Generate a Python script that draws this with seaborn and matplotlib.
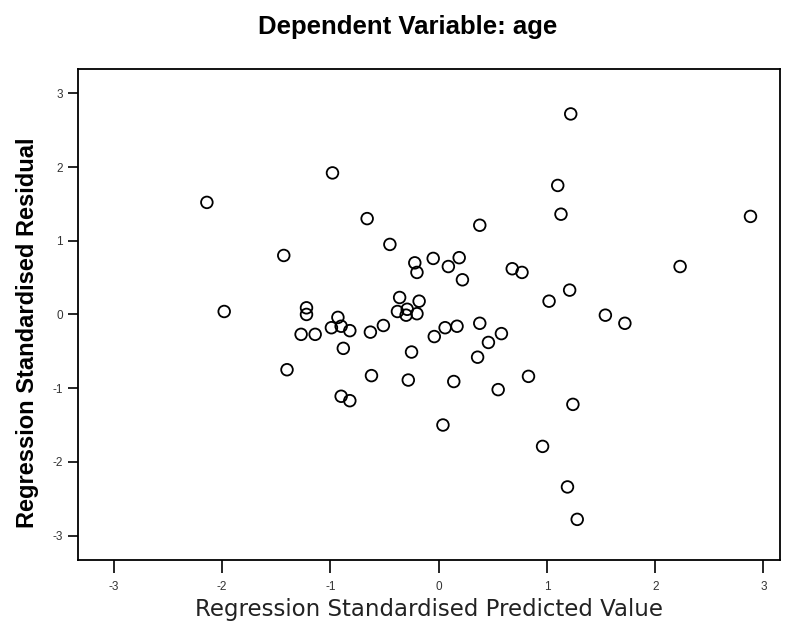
import matplotlib
matplotlib.use("Agg")
import matplotlib.pyplot as plt
import seaborn as sns
import pandas as pd

predicted = [-2.14, -1.98, -1.43, -1.40, -0.98, -0.66, -0.45, -0.22, -0.20, -0.05,
             0.09, 0.19, 0.22, 0.38, 1.22, 1.10, 1.13, 2.88, 2.23, 0.68,
             0.77, 1.02, 1.21, 1.54, 1.72, -1.22, -1.22, -0.93, -0.99, -0.90,
             -0.82, -1.27, -1.14, -0.88, -0.63, -0.51, -0.36, -0.18, -0.38, -0.29,
             -0.30, -0.20, -0.25, -0.62, -0.28, 0.14, -0.90, -0.82, 0.04, -0.04,
             0.06, 0.17, 0.38, 0.58, 0.46, 0.36, 0.55, 0.83, 1.24, 0.96,
             1.19, 1.28]
residual = [1.52, 0.04, 0.80, -0.75, 1.92, 1.30, 0.95, 0.70, 0.57, 0.76,
            0.65, 0.77, 0.47, 1.21, 2.72, 1.75, 1.36, 1.33, 0.65, 0.62,
            0.57, 0.18, 0.33, -0.01, -0.12, 0.09, 0.00, -0.04, -0.18, -0.16,
            -0.22, -0.27, -0.27, -0.46, -0.24, -0.15, 0.23, 0.18, 0.04, 0.07,
            -0.01, 0.01, -0.51, -0.83, -0.89, -0.91, -1.11, -1.17, -1.50, -0.30,
            -0.18, -0.16, -0.12, -0.26, -0.38, -0.58, -1.02, -0.84, -1.22, -1.79,
            -2.34, -2.78]
ticks = [-3, -2, -1, 0, 1, 2, 3]

title = "Dependent Variable: age"
xlabel = "Regression Standardised Predicted Value"
ylabel = "Regression Standardised Residual"

df = pd.DataFrame({"pred": predicted, "resid": residual})

sns.set_style("white")
plt.rcParams["font.family"] = ["Liberation Sans", "DejaVu Sans"]
plt.rcParams["text.color"] = "black"

fig = plt.figure(figsize=(7.92, 6.27), dpi=100)
ax = fig.add_axes([0.0985, 0.107, 0.886, 0.783])

sns.scatterplot(data=df, x="pred", y="resid", ax=ax, marker="o",
                facecolors="none", edgecolor="black", linewidth=1.3, s=70)

ax.set_xlim(-3.33, 3.15)
ax.set_ylim(-3.33, 3.33)
ax.set_xticks(ticks)
ax.set_yticks(ticks)
ax.set_xticklabels([str(t) for t in ticks], fontsize=8.5, color="#333333")
ax.set_yticklabels([str(t) for t in ticks], fontsize=8.5, color="#333333")
ax.tick_params(axis="x", direction="out", length=9, width=1.2, color="black", pad=6)
ax.tick_params(axis="y", direction="out", length=7, width=1.2, color="black", pad=4)
ax.tick_params(bottom=True, left=True)
for sp in ax.spines.values():
    sp.set_color("black")
    sp.set_linewidth(1.3)

ax.set_xlabel(xlabel, fontsize=16.5, color="#222222", labelpad=4,
              family=["DejaVu Sans"])
ax.set_ylabel(ylabel, fontsize=17, fontweight="bold", color="black")
ax.yaxis.set_label_coords(-0.056, 0.463)
fig.text(0.515, 0.957, title, ha="center", va="center", fontsize=18.5,
         fontweight="bold", color="black")

fig.savefig("out.png", dpi=100)
